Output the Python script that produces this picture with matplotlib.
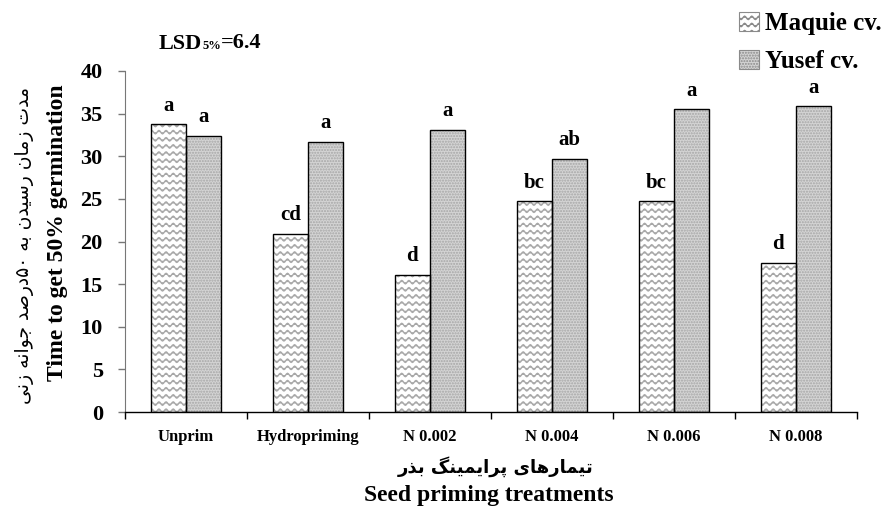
import warnings
import numpy as np
import matplotlib
matplotlib.use("Agg")
import matplotlib.pyplot as plt
from matplotlib import hatch as mhatch
from matplotlib.path import Path
from matplotlib.patches import Patch

warnings.filterwarnings("ignore")

# data
treatments = ["Unprim", "Hydropriming", "N 0.002", "N 0.004", "N 0.006", "N 0.008"]
maquie = [33.8, 20.9, 16.1, 24.7, 24.7, 17.5]
yusef = [32.4, 31.7, 33.1, 29.7, 35.5, 35.9]
maquie_letters = ["a", "cd", "d", "bc", "bc", "d"]
yusef_letters = ["a", "a", "a", "ab", "a", "a"]
yticks = [0, 5, 10, 15, 20, 25, 30, 35, 40]

ylab_en = "Time to get 50% germination"
ylab_fa = "مدت زمان رسیدن به ۵۰درصد جوانه زنی"
xlab_en = "Seed priming treatments"
xlab_fa = "تیمارهای پرایمینگ بذر"


# wavy hatch for the Maquie bars
class WaveHatch(mhatch.HatchPatternBase):
    rows = 14
    waves = 14
    pts = 8

    def __init__(self, hatch, density):
        n = self.waves * self.pts + 1
        self.n = n
        self.num_vertices = self.rows * n if "~" in hatch else 0

    def set_vertices_and_codes(self, vertices, codes):
        t = np.linspace(0, 1, self.n)
        for r in range(self.rows):
            y = (r + 0.5) / self.rows
            seg = slice(r * self.n, (r + 1) * self.n)
            vertices[seg, 0] = t
            vertices[seg, 1] = y + 0.017 * np.sin(2 * np.pi * self.waves * t)
            codes[seg] = Path.LINETO
            codes[r * self.n] = Path.MOVETO


mhatch._hatch_types.append(WaveHatch)


# minimal Persian shaping (isolated, final, initial, medial)
FORMS = {
    "ا": ("\uFE8D", "\uFE8E", None, None),
    "ب": ("\uFE8F", "\uFE90", "\uFE91", "\uFE92"),
    "ت": ("\uFE95", "\uFE96", "\uFE97", "\uFE98"),
    "ج": ("\uFE9D", "\uFE9E", "\uFE9F", "\uFEA0"),
    "د": ("\uFEA9", "\uFEAA", None, None),
    "ذ": ("\uFEAB", "\uFEAC", None, None),
    "ر": ("\uFEAD", "\uFEAE", None, None),
    "ز": ("\uFEAF", "\uFEB0", None, None),
    "س": ("\uFEB1", "\uFEB2", "\uFEB3", "\uFEB4"),
    "ص": ("\uFEB9", "\uFEBA", "\uFEBB", "\uFEBC"),
    "م": ("\uFEE1", "\uFEE2", "\uFEE3", "\uFEE4"),
    "ن": ("\uFEE5", "\uFEE6", "\uFEE7", "\uFEE8"),
    "ه": ("\uFEE9", "\uFEEA", "\uFEEB", "\uFEEC"),
    "و": ("\uFEED", "\uFEEE", None, None),
    "ی": ("\uFBFC", "\uFBFD", "\uFBFE", "\uFBFF"),
    "پ": ("\uFB56", "\uFB57", "\uFB58", "\uFB59"),
    "گ": ("\uFB92", "\uFB93", "\uFB94", "\uFB95"),
}


def shape_fa(s):
    out = []
    for i, c in enumerate(s):
        if c not in FORMS:
            out.append(c)
            continue
        prev = s[i - 1] if i > 0 else ""
        nxt = s[i + 1] if i + 1 < len(s) else ""
        pj = prev in FORMS and FORMS[prev][2] is not None
        nj = FORMS[c][2] is not None and nxt in FORMS
        f = FORMS[c]
        if pj and nj:
            out.append(f[3])
        elif pj:
            out.append(f[1])
        elif nj:
            out.append(f[2])
        else:
            out.append(f[0])
    # visual order: reverse, keep digit runs left to right
    runs, cur, isdig = [], "", None
    for c in out:
        d = c.isdigit()
        if cur and d != isdig:
            runs.append((cur, isdig))
            cur = ""
        cur += c
        isdig = d
    runs.append((cur, isdig))
    return "".join(r if d else r[::-1] for r, d in reversed(runs))


plt.rcParams["font.family"] = ["Liberation Serif", "DejaVu Sans"]
plt.rcParams["font.weight"] = "bold"
plt.rcParams["hatch.linewidth"] = 1.0

W, H = 884, 507
fig = plt.figure(figsize=(W / 100, H / 100), dpi=100)
ax = fig.add_axes([125 / W, (H - 412) / H, (857 - 125) / W, (412 - 71) / H])

x = np.arange(len(treatments)) + 0.5
bw = 0.29

# hatched fills, then black outlines on top
ax.bar(x - bw / 2, maquie, bw, facecolor="white", edgecolor="#a8a8a8",
       hatch="~", linewidth=0, zorder=2)
ax.bar(x + bw / 2, yusef, bw, facecolor="#d4d4d4", edgecolor="#a6a6a6",
       hatch="......", linewidth=0, zorder=2)
b1 = ax.bar(x - bw / 2, maquie, bw, fill=False, edgecolor="black",
            linewidth=1.0, zorder=3)
b2 = ax.bar(x + bw / 2, yusef, bw, fill=False, edgecolor="black",
            linewidth=1.0, zorder=3)

for bars, labs in ((b1, maquie_letters), (b2, yusef_letters)):
    for r, lab in zip(bars, labs):
        ax.annotate(lab, (r.get_x() + r.get_width() / 2, r.get_height()),
                    xytext=(0, 6), textcoords="offset points",
                    ha="center", va="bottom", fontsize=15, fontweight="bold")

ax.set_xlim(0, len(treatments))
ax.set_ylim(0, 40)
ax.set_yticks(yticks)
ax.set_xticks(np.arange(len(treatments) + 1))
ax.set_xticklabels([])
ax.set_xticks(x, minor=True)
ax.set_xticklabels(treatments, minor=True, fontsize=12, fontweight="bold")
ax.tick_params(axis="x", which="minor", length=0, pad=12)
ax.tick_params(axis="x", which="major", direction="out", length=5, width=1)
ax.tick_params(axis="y", direction="out", length=5, width=1, colors="#777777",
               labelcolor="black", labelsize=16, pad=11)
for lab in ax.get_yticklabels():
    lab.set_fontweight("bold")

ax.spines["top"].set_visible(False)
ax.spines["right"].set_visible(False)
ax.spines["left"].set_color("#777777")
ax.spines["bottom"].set_linewidth(1.0)

# axis titles
fig.text(58 / W, 1 - 233 / H, ylab_en, rotation=90, ha="center", va="center",
         fontsize=17, fontweight="bold")
fig.text(25 / W, 1 - 245 / H, shape_fa(ylab_fa), rotation=90, ha="center",
         va="center", fontsize=13.5, fontweight="normal", family="DejaVu Sans")
fig.text(496 / W, 1 - 467 / H, shape_fa(xlab_fa), ha="center", va="center",
         fontsize=13, fontweight="bold", family="DejaVu Sans")
fig.text(489 / W, 1 - 495 / H, xlab_en, ha="center", va="center",
         fontsize=17, fontweight="bold")

# LSD note
t1 = fig.text(159 / W, 1 - 54 / H, "LSD", ha="left", va="bottom",
              fontsize=16, fontweight="bold")
t2 = ax.annotate("5%", xy=(1, 0.08), xycoords=t1, ha="left", va="bottom",
                 fontsize=9, fontweight="bold", annotation_clip=False)
ax.annotate("=6.4", xy=(1, -0.08), xycoords=t2, ha="left", va="bottom",
            fontsize=16, fontweight="bold", annotation_clip=False)

handles = [
    Patch(facecolor="white", edgecolor="#8a8a8a", hatch="~", linewidth=0.8),
    Patch(facecolor="#d4d4d4", edgecolor="#8a8a8a", hatch="......", linewidth=0.8),
]
fig.legend(handles, ["Maquie cv.", "Yusef cv."], loc="upper left",
           bbox_to_anchor=(739 / W, 1 - 12 / H), frameon=False,
           prop={"size": 18, "weight": "bold"}, handlelength=0.8,
           handleheight=0.8, handletextpad=0.25, labelspacing=0.6,
           borderpad=0, borderaxespad=0)

fig.savefig("out.png", dpi=100)
